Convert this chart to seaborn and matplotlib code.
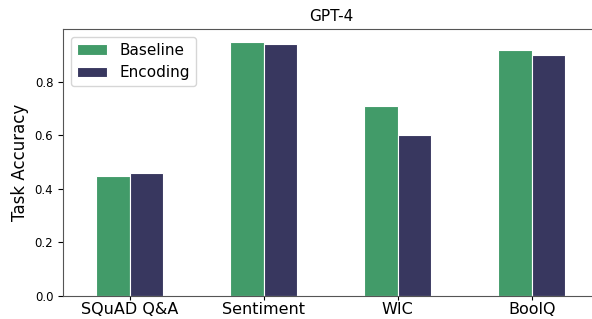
import pandas as pd
import matplotlib.pyplot as plt
import seaborn as sns

# === Data ===
tasks = ["SQuAD Q&A", "Sentiment", "WIC", "BoolQ"]
baseline = [0.45, 0.95, 0.71, 0.92]
encoding = [0.46, 0.94, 0.60, 0.90]
methods = ["Baseline", "Encoding"]
colors = ["#429b69", "#38375f"]

df = pd.DataFrame({
    "task": tasks * 2,
    "accuracy": baseline + encoding,
    "method": [methods[0]] * len(tasks) + [methods[1]] * len(tasks),
})

# === Plot ===
fig = plt.figure(figsize=(5.92, 3.19), dpi=100)
ax = fig.add_axes([0.1064, 0.0721, 0.905, 0.837])
sns.barplot(data=df, x="task", y="accuracy", hue="method", palette=colors,
            saturation=1, width=0.5, edgecolor="white", linewidth=0.8, ax=ax)
ax.set_xlim(-0.5, 3.5)
ax.set_title("GPT-4", fontsize=11)
ax.set_ylabel("Task Accuracy", fontsize=12)
ax.set_xlabel("")
ax.tick_params(axis="x", labelsize=11.5, length=3, pad=1)
ax.tick_params(axis="y", labelsize=8.5)
for s in ax.spines.values():
    s.set_color("#555555")
ax.spines["right"].set_visible(False)
ax.legend(loc="upper left", fontsize=11)
fig.savefig("out.png", dpi=100)
